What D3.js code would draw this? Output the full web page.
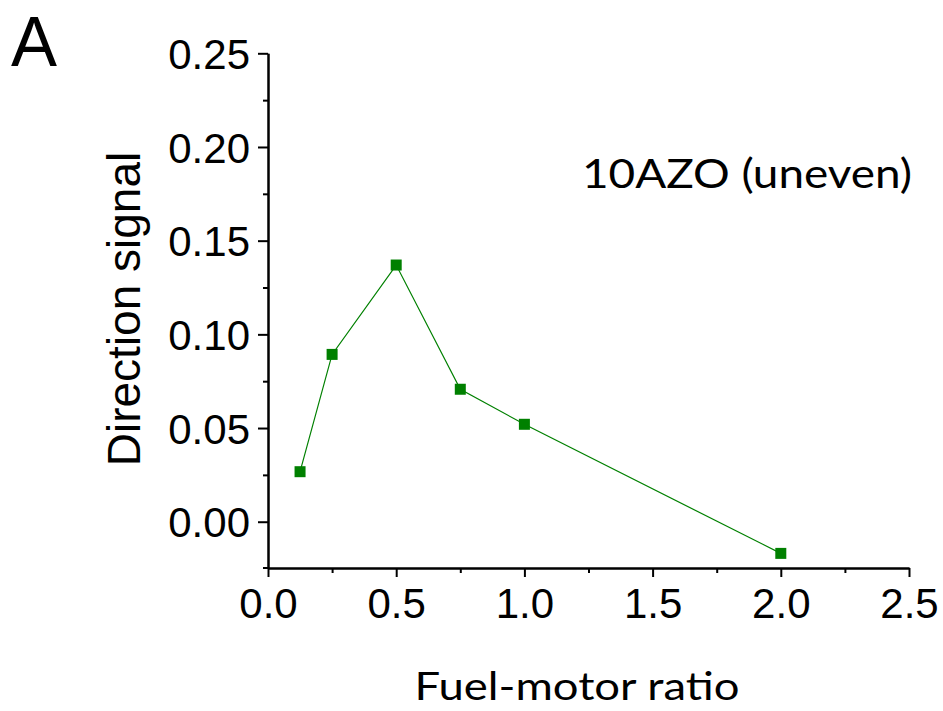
<!DOCTYPE html>
<html>
<head>
<meta charset="utf-8">
<script src="https://cdn.jsdelivr.net/npm/d3@7"></script>
<style>
  html, body { margin: 0; padding: 0; background: #fff; }
  svg { display: block; }
</style>
</head>
<body>
<svg id="chart" width="943" height="711"></svg>
<script>
// ---- data ----
const ratios = [0.125, 0.25, 0.5, 0.75, 1.0, 2.0];
const signal = [0.0267, 0.0893, 0.1370, 0.0707, 0.0520, -0.0169];
const xTicks = [0.0, 0.5, 1.0, 1.5, 2.0, 2.5];
const xMinorTicks = [0.25, 0.75, 1.25, 1.75, 2.25];
const yTicks = [0.00, 0.05, 0.10, 0.15, 0.20, 0.25];
const yMinorTicks = [0.025, 0.075, 0.125, 0.175, 0.225];
const xTitle = "Fuel-motor ratio";
const yTitle = "Direction signal";
const annotation = "10AZO (uneven)";
const panelLabel = "A";

const svg = d3.select("#chart");
const color = "#008000";
const axisFont = "'Liberation Sans', Arial, sans-serif";
const titleFont = "Lato, 'Open Sans', sans-serif";

const x = d3.scaleLinear().domain([0, 2.5]).range([268, 909]);
const y = d3.scaleLinear().domain([-0.0247, 0.25]).range([568, 53.3]);

// Axes
const xAxis = d3.axisBottom(x).tickValues(xTicks).tickSize(9).tickSizeOuter(0).tickFormat(d3.format(".1f"));
const xAxisMinor = d3.axisBottom(x).tickValues(xMinorTicks).tickSize(5).tickSizeOuter(0).tickFormat("");
const yAxis = d3.axisLeft(y).tickValues(yTicks).tickSize(10).tickSizeOuter(0).tickFormat(d3.format(".2f"));
const yAxisMinor = d3.axisLeft(y).tickValues(yMinorTicks).tickSize(5).tickSizeOuter(0).tickFormat("");

function styleAxis(g) {
  g.selectAll("path.domain").attr("stroke", "#000").attr("stroke-width", 2);
  g.selectAll(".tick line").attr("stroke", "#000").attr("stroke-width", 2);
}

const gxMinor = svg.append("g").attr("transform", `translate(0,${y.range()[0]})`).call(xAxisMinor);
styleAxis(gxMinor);
const gyMinor = svg.append("g").attr("transform", `translate(${x.range()[0]},0)`).call(yAxisMinor);
styleAxis(gyMinor);

const gx = svg.append("g").attr("transform", `translate(0,${y.range()[0]})`).call(xAxis);
styleAxis(gx);
gx.selectAll(".tick text")
  .attr("font-family", axisFont).attr("font-size", 42).attr("fill", "#000")
  .attr("dy", null).attr("y", 50);

const gy = svg.append("g").attr("transform", `translate(${x.range()[0]},0)`).call(yAxis);
styleAxis(gy);
gy.selectAll(".tick text")
  .attr("font-family", axisFont).attr("font-size", 42).attr("fill", "#000")
  .attr("x", -18).attr("dy", "0.36em");

// small overhang of x axis line at the corner
svg.append("line")
  .attr("x1", x.range()[0] - 5).attr("x2", x.range()[0])
  .attr("y1", y.range()[0]).attr("y2", y.range()[0])
  .attr("stroke", "#000").attr("stroke-width", 2);

// Line + markers
const pts = ratios.map((r, i) => [r, signal[i]]);
svg.append("path")
  .datum(pts)
  .attr("fill", "none")
  .attr("stroke", color)
  .attr("stroke-width", 1.2)
  .attr("d", d3.line().x(d => x(d[0])).y(d => y(d[1])));

const ms = 11;
svg.selectAll("rect.marker")
  .data(pts)
  .join("rect")
  .attr("class", "marker")
  .attr("x", d => x(d[0]) - ms / 2)
  .attr("y", d => y(d[1]) - ms / 2)
  .attr("width", ms).attr("height", ms)
  .attr("fill", color);

// Titles
svg.append("text")
  .attr("x", 577).attr("y", 700)
  .attr("text-anchor", "middle")
  .attr("font-family", titleFont).attr("font-size", 39)
  .attr("textLength", 325).attr("lengthAdjust", "spacingAndGlyphs")
  .attr("fill", "#000")
  .text(xTitle);

svg.append("text")
  .attr("transform", "translate(140,309) rotate(-90)")
  .attr("text-anchor", "middle")
  .attr("font-family", axisFont).attr("font-size", 46)
  .attr("fill", "#000")
  .text(yTitle);

svg.append("text")
  .attr("x", 747).attr("y", 188)
  .attr("text-anchor", "middle")
  .attr("font-family", titleFont).attr("font-size", 41)
  .attr("textLength", 330).attr("lengthAdjust", "spacingAndGlyphs")
  .attr("fill", "#000")
  .text(annotation);

svg.append("text")
  .attr("x", 11).attr("y", 66)
  .attr("font-family", axisFont).attr("font-size", 70)
  .attr("textLength", 46).attr("lengthAdjust", "spacingAndGlyphs")
  .attr("fill", "#000")
  .text(panelLabel);
</script>
</body>
</html>
